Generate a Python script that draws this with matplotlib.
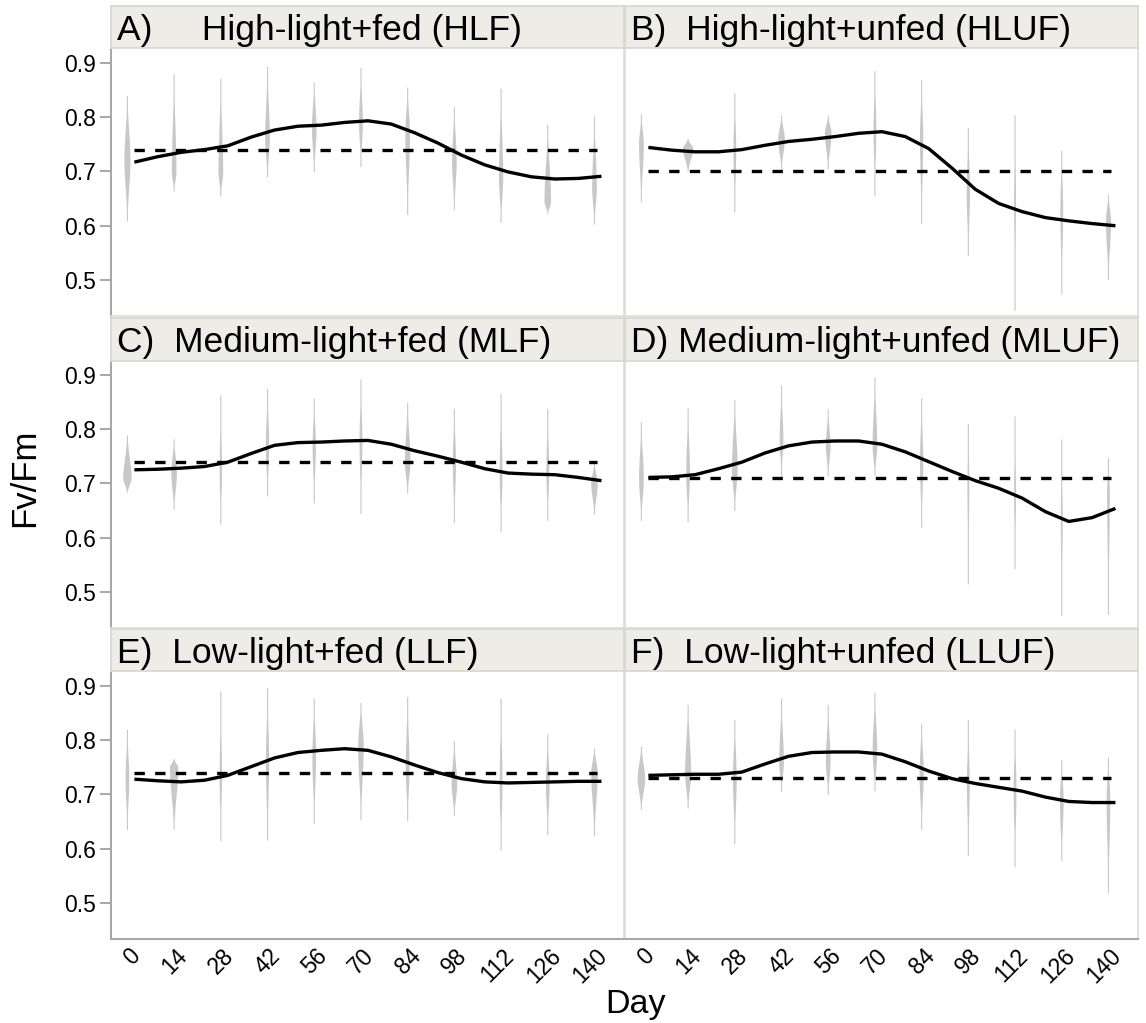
import numpy as np
import matplotlib
matplotlib.use('Agg')
import matplotlib.pyplot as plt
import matplotlib.transforms as mtransforms

plt.rcParams['font.family'] = ['Liberation Sans', 'DejaVu Sans']

# ---- data ----
days = ['0', '14', '28', '42', '56', '70', '84', '98', '112', '126', '140']

titles = ['A)     High-light+fed (HLF)', 'B)  High-light+unfed (HLUF)',
          'C)  Medium-light+fed (MLF)', 'D) Medium-light+unfed (MLUF)',
          'E)  Low-light+fed (LLF)', 'F)  Low-light+unfed (LLUF)']

# reference (day 0) level, dashed line
ref_A, ref_B, ref_C, ref_D, ref_E, ref_F = 0.74, 0.70, 0.74, 0.71, 0.74, 0.73

# violin extents: min, max, densest value, half width (category units)
vmin_A = [0.609, 0.664, 0.655, 0.690, 0.699, 0.709, 0.621, 0.629, 0.606, 0.623, 0.603]
vmax_A = [0.839, 0.880, 0.871, 0.893, 0.865, 0.891, 0.855, 0.819, 0.853, 0.787, 0.802]
vmod_A = [0.721, 0.700, 0.700, 0.760, 0.780, 0.790, 0.770, 0.720, 0.690, 0.645, 0.670]
vwid_A = [0.065, 0.050, 0.050, 0.050, 0.050, 0.040, 0.050, 0.050, 0.045, 0.070, 0.050]

vmin_B = [0.644, 0.701, 0.625, 0.705, 0.705, 0.656, 0.604, 0.546, 0.444, 0.474, 0.501]
vmax_B = [0.806, 0.761, 0.845, 0.804, 0.804, 0.885, 0.869, 0.780, 0.804, 0.739, 0.658]
vmod_B = [0.750, 0.742, 0.740, 0.760, 0.770, 0.780, 0.760, 0.660, 0.650, 0.630, 0.610]
vwid_B = [0.050, 0.110, 0.030, 0.070, 0.070, 0.030, 0.035, 0.035, 0.020, 0.030, 0.055]

vmin_C = [0.684, 0.653, 0.625, 0.677, 0.664, 0.645, 0.682, 0.628, 0.611, 0.632, 0.643]
vmax_C = [0.789, 0.782, 0.863, 0.875, 0.857, 0.892, 0.849, 0.838, 0.866, 0.838, 0.739]
vmod_C = [0.710, 0.720, 0.720, 0.770, 0.770, 0.780, 0.740, 0.740, 0.720, 0.720, 0.700]
vwid_C = [0.090, 0.060, 0.025, 0.035, 0.035, 0.030, 0.060, 0.035, 0.030, 0.030, 0.070]

vmin_D = [0.632, 0.629, 0.650, 0.714, 0.714, 0.714, 0.620, 0.515, 0.543, 0.457, 0.459]
vmax_D = [0.813, 0.839, 0.854, 0.881, 0.837, 0.896, 0.857, 0.810, 0.824, 0.782, 0.748]
vmod_D = [0.710, 0.720, 0.730, 0.780, 0.770, 0.770, 0.740, 0.700, 0.680, 0.630, 0.680]
vwid_D = [0.050, 0.040, 0.060, 0.040, 0.050, 0.050, 0.035, 0.020, 0.020, 0.020, 0.030]

vmin_E = [0.635, 0.636, 0.615, 0.616, 0.646, 0.653, 0.652, 0.662, 0.598, 0.626, 0.624]
vmax_E = [0.820, 0.766, 0.890, 0.896, 0.877, 0.869, 0.880, 0.799, 0.877, 0.812, 0.785]
vmod_E = [0.730, 0.750, 0.730, 0.760, 0.770, 0.790, 0.750, 0.720, 0.720, 0.720, 0.740]
vwid_E = [0.040, 0.090, 0.025, 0.035, 0.040, 0.060, 0.040, 0.060, 0.030, 0.040, 0.070]

vmin_F = [0.673, 0.675, 0.609, 0.706, 0.700, 0.707, 0.635, 0.587, 0.567, 0.578, 0.519]
vmax_F = [0.789, 0.865, 0.838, 0.877, 0.865, 0.888, 0.831, 0.837, 0.820, 0.764, 0.769]
vmod_F = [0.730, 0.740, 0.730, 0.760, 0.760, 0.780, 0.740, 0.720, 0.710, 0.690, 0.690]
vwid_F = [0.080, 0.065, 0.040, 0.050, 0.050, 0.050, 0.045, 0.030, 0.030, 0.040, 0.040]

# smoothed trend, read every half category starting just right of day 0
trend_A = [0.717, 0.727, 0.735, 0.740, 0.747, 0.763, 0.776, 0.783, 0.785, 0.790, 0.793,
           0.787, 0.771, 0.752, 0.730, 0.712, 0.699, 0.690, 0.686, 0.687, 0.691]
trend_B = [0.744, 0.739, 0.736, 0.736, 0.740, 0.748, 0.755, 0.759, 0.764, 0.770, 0.773,
           0.764, 0.742, 0.706, 0.667, 0.641, 0.626, 0.615, 0.609, 0.604, 0.600]
trend_C = [0.725, 0.726, 0.728, 0.731, 0.739, 0.755, 0.770, 0.775, 0.776, 0.778, 0.779,
           0.772, 0.760, 0.750, 0.739, 0.727, 0.719, 0.717, 0.716, 0.711, 0.705]
trend_D = [0.711, 0.712, 0.716, 0.727, 0.739, 0.756, 0.769, 0.776, 0.778, 0.778, 0.772,
           0.758, 0.740, 0.722, 0.705, 0.691, 0.673, 0.648, 0.630, 0.637, 0.654]
trend_E = [0.728, 0.725, 0.723, 0.726, 0.735, 0.751, 0.767, 0.777, 0.781, 0.784, 0.781,
           0.769, 0.754, 0.740, 0.729, 0.723, 0.721, 0.722, 0.723, 0.724, 0.724]
trend_F = [0.735, 0.736, 0.737, 0.737, 0.741, 0.756, 0.770, 0.777, 0.778, 0.778, 0.774,
           0.760, 0.743, 0.729, 0.720, 0.713, 0.706, 0.695, 0.687, 0.685, 0.685]

panels = [
    (vmin_A, vmax_A, vmod_A, vwid_A, trend_A, ref_A),
    (vmin_B, vmax_B, vmod_B, vwid_B, trend_B, ref_B),
    (vmin_C, vmax_C, vmod_C, vwid_C, trend_C, ref_C),
    (vmin_D, vmax_D, vmod_D, vwid_D, trend_D, ref_D),
    (vmin_E, vmax_E, vmod_E, vwid_E, trend_E, ref_E),
    (vmin_F, vmax_F, vmod_F, vwid_F, trend_F, ref_F),
]

VIOLIN = '#C8C8C8'
STRIP = '#EDECE6'
FRAME = '#DCDCDC'
AXIS = '#A8A8A8'


def draw_violin(ax, x, lo, hi, mode, hw):
    """Thin violin outline from range, densest value and width."""
    ys = np.linspace(lo, hi, 120)
    s = np.where(ys >= mode, (hi - mode) / 2.3, (mode - lo) / 2.3)
    w = hw * np.exp(-0.5 * ((ys - mode) / s) ** 2)
    w = np.maximum(w, 0.012)
    ax.fill_betweenx(ys, x - w, x + w, color=VIOLIN, lw=0, zorder=1)


fig = plt.figure(figsize=(11.46, 10.23), dpi=100)

col_left = [0.0969, 0.5454]
col_w = 0.4475
row_bottom = [0.6911, 0.3861, 0.0821]
row_h = 0.2615
strip_h = 0.0411

xpos = np.arange(len(days))
trend_x = np.linspace(0.16, 10.16, 21)

for i, (lo, hi, md, hw, trend, ref) in enumerate(panels):
    r, c = divmod(i, 2)
    ax = fig.add_axes([col_left[c], row_bottom[r], col_w, row_h])
    for j in range(len(days)):
        draw_violin(ax, xpos[j], lo[j], hi[j], md[j], hw[j])
    ax.hlines(ref, 0.16, 10.06, colors='black', lw=2.4, linestyles=(0, (3.1, 3.1)), zorder=3)
    ax.plot(trend_x, trend, color='black', lw=2.4, zorder=4, solid_capstyle='butt',
            solid_joinstyle='round')

    ax.set_xlim(-0.34, 10.64)
    ax.set_ylim(0.434, 0.926)
    for sp in ax.spines.values():
        sp.set_color(FRAME)
        sp.set_linewidth(1.2)
    ax.spines['top'].set_visible(False)

    ax.set_yticks([0.5, 0.6, 0.7, 0.8, 0.9])
    if c == 0:
        ax.spines['left'].set_color(AXIS)
        ax.spines['left'].set_linewidth(1.5)
        ax.set_yticklabels(['0.5', '0.6', '0.7', '0.8', '0.9'])
        ax.tick_params(axis='y', length=8, width=1.3, color='#A0A0A0',
                       labelsize=16.5, pad=3)
    else:
        ax.tick_params(axis='y', length=0, labelleft=False)

    ax.set_xticks(xpos)
    if r == 2:
        ax.spines['bottom'].set_color(AXIS)
        ax.spines['bottom'].set_linewidth(1.5)
        ax.set_xticklabels(days, rotation=45, ha='right', va='top')
        ax.tick_params(axis='x', length=0, labelsize=16.5, pad=4)
        offset = mtransforms.ScaledTranslation(0.18, 0, fig.dpi_scale_trans)
        for lab in ax.get_xticklabels():
            lab.set_transform(lab.get_transform() + offset)
    else:
        ax.tick_params(axis='x', length=0, labelbottom=False)

    # panel header strip
    sax = fig.add_axes([col_left[c], row_bottom[r] + row_h, col_w, strip_h])
    sax.set_facecolor(STRIP)
    sax.set_xticks([])
    sax.set_yticks([])
    for sp in sax.spines.values():
        sp.set_color('#D8D7CF')
        sp.set_linewidth(1.2)
    sax.text(0.012, 0.2, titles[i], transform=sax.transAxes, fontsize=25.5,
             ha='left', va='baseline')

fig.text(25 / 1146, 0.533, 'Fv/Fm', rotation=90, ha='center', va='center', fontsize=25)
fig.text(636 / 1146, 0.0098, 'Day', ha='center', va='baseline', fontsize=24.5)

fig.savefig('out.png', dpi=100)
